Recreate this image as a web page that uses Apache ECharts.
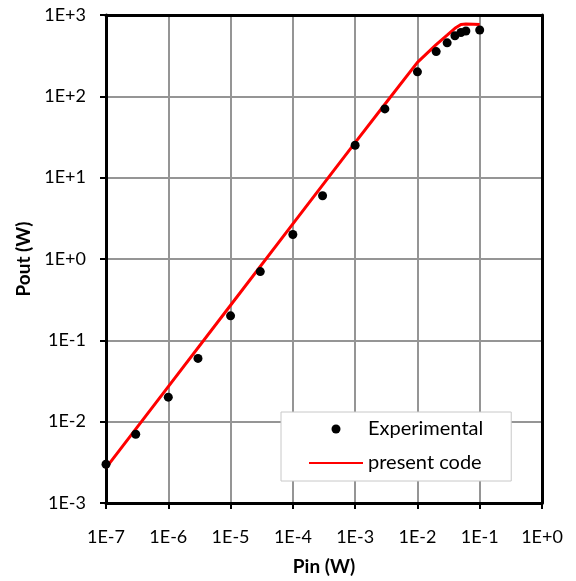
<!DOCTYPE html>
<html>
<head>
<meta charset="utf-8">
<script src="https://cdn.jsdelivr.net/npm/echarts@6/dist/echarts.min.js"></script>
<style>
  html, body { margin: 0; padding: 0; background: #fff; }
  #chart { width: 576px; height: 581px; }
</style>
</head>
<body>
<div id="chart"></div>
<script>
// 实验数据
var expPin = [1e-7, 3e-7, 1e-6, 3e-6, 1e-5, 3e-5, 1e-4, 3e-4, 1e-3, 3e-3, 1e-2, 2e-2, 3e-2, 4e-2, 5e-2, 6e-2, 1e-1];
var expPout = [0.003, 0.007, 0.02, 0.06, 0.2, 0.7, 2, 6, 25, 70, 200, 355, 455, 555, 610, 635, 655];

// 计算曲线
var codePin = [1e-7, 1e-6, 1e-5, 1e-4, 1e-3, 3e-3, 1e-2, 2e-2, 3e-2, 4e-2, 5e-2, 6e-2, 8e-2, 1e-1];
var codePout = [0.0027, 0.027, 0.27, 2.7, 27, 80, 262, 432, 565, 685, 765, 776, 772, 762];

var seriesNames = ['Experimental', 'present code'];
var axisNames = ['Pin (W)', 'Pout (W)'];

var fontFamily = 'Lato, "Noto Sans", sans-serif';

function zip(xs, ys) {
    return xs.map(function(x, i) {
        return [x, ys[i]];
    });
}

// 1E-7 这种格式
function sciLabel(v) {
    var e = Math.round(Math.log(v) / Math.LN10);
    return '1E' + (e >= 0 ? '+' : '') + e;
}

var chart = echarts.init(document.getElementById('chart'), null, { renderer: 'canvas' });

function mainAxis(extra) {
    return echarts.util.merge({
        type: 'log',
        logBase: 10,
        axisLine: { show: true, lineStyle: { color: '#000', width: 3 } },
        axisTick: { show: true, inside: false, length: 6, lineStyle: { color: '#000', width: 2 } },
        splitLine: { show: true, lineStyle: { color: '#959595', width: 2 } },
        minorTick: { show: false },
        axisLabel: {
            formatter: sciLabel,
            color: '#000',
            fontFamily: fontFamily,
            fontSize: 18
        },
        nameLocation: 'middle',
        nameTextStyle: {
            color: '#000',
            fontFamily: fontFamily,
            fontWeight: 'bold',
            fontSize: 19
        }
    }, extra, true);
}

// 上边和右边的框线
function frameAxis(extra) {
    return echarts.util.merge({
        type: 'log',
        logBase: 10,
        axisLine: { show: true, onZero: false, lineStyle: { color: '#000', width: 3 } },
        axisTick: { show: false },
        axisLabel: { show: false },
        splitLine: { show: false }
    }, extra, true);
}

var option = {
    animation: false,
    backgroundColor: '#fff',
    grid: {
        left: 106,
        right: 34,
        top: 15,
        bottom: 77,
        show: false
    },
    xAxis: [
        mainAxis({
            min: 1e-7,
            max: 1,
            splitNumber: 7,
            name: axisNames[0],
            nameGap: 54,
            axisLabel: { margin: 25 }
        }),
        frameAxis({ position: 'top', min: 1e-7, max: 1 })
    ],
    yAxis: [
        mainAxis({
            min: 1e-3,
            max: 1e3,
            splitNumber: 6,
            name: axisNames[1],
            nameGap: 72,
            axisLabel: { margin: 20 }
        }),
        frameAxis({ position: 'right', min: 1e-3, max: 1e3 })
    ],
    legend: {
        orient: 'vertical',
        left: 281,
        top: 412,
        z: 10,
        padding: [7, 28, 8, 27],
        backgroundColor: '#fff',
        borderColor: '#c8c8c8',
        borderWidth: 1,
        borderRadius: 0,
        itemWidth: 54,
        itemHeight: 9,
        itemGap: 14,
        itemStyle: { borderWidth: 0 },
        textStyle: {
            color: '#000',
            fontFamily: fontFamily,
            fontSize: 20,
            lineHeight: 20
        },
        data: [
            { name: seriesNames[0], icon: 'circle' },
            { name: seriesNames[1], itemStyle: { color: 'rgba(0,0,0,0)', borderWidth: 0 } }
        ]
    },
    series: [{
        name: seriesNames[1],
        type: 'line',
        data: zip(codePin, codePout),
        showSymbol: false,
        symbol: 'none',
        lineStyle: { color: '#ff0000', width: 3 },
        itemStyle: { color: '#ff0000' },
        z: 2
    }, {
        name: seriesNames[0],
        type: 'scatter',
        data: zip(expPin, expPout),
        symbol: 'circle',
        symbolSize: 9,
        itemStyle: { color: '#000', opacity: 1 },
        z: 3
    }]
};

chart.setOption(option);
</script>
</body>
</html>
